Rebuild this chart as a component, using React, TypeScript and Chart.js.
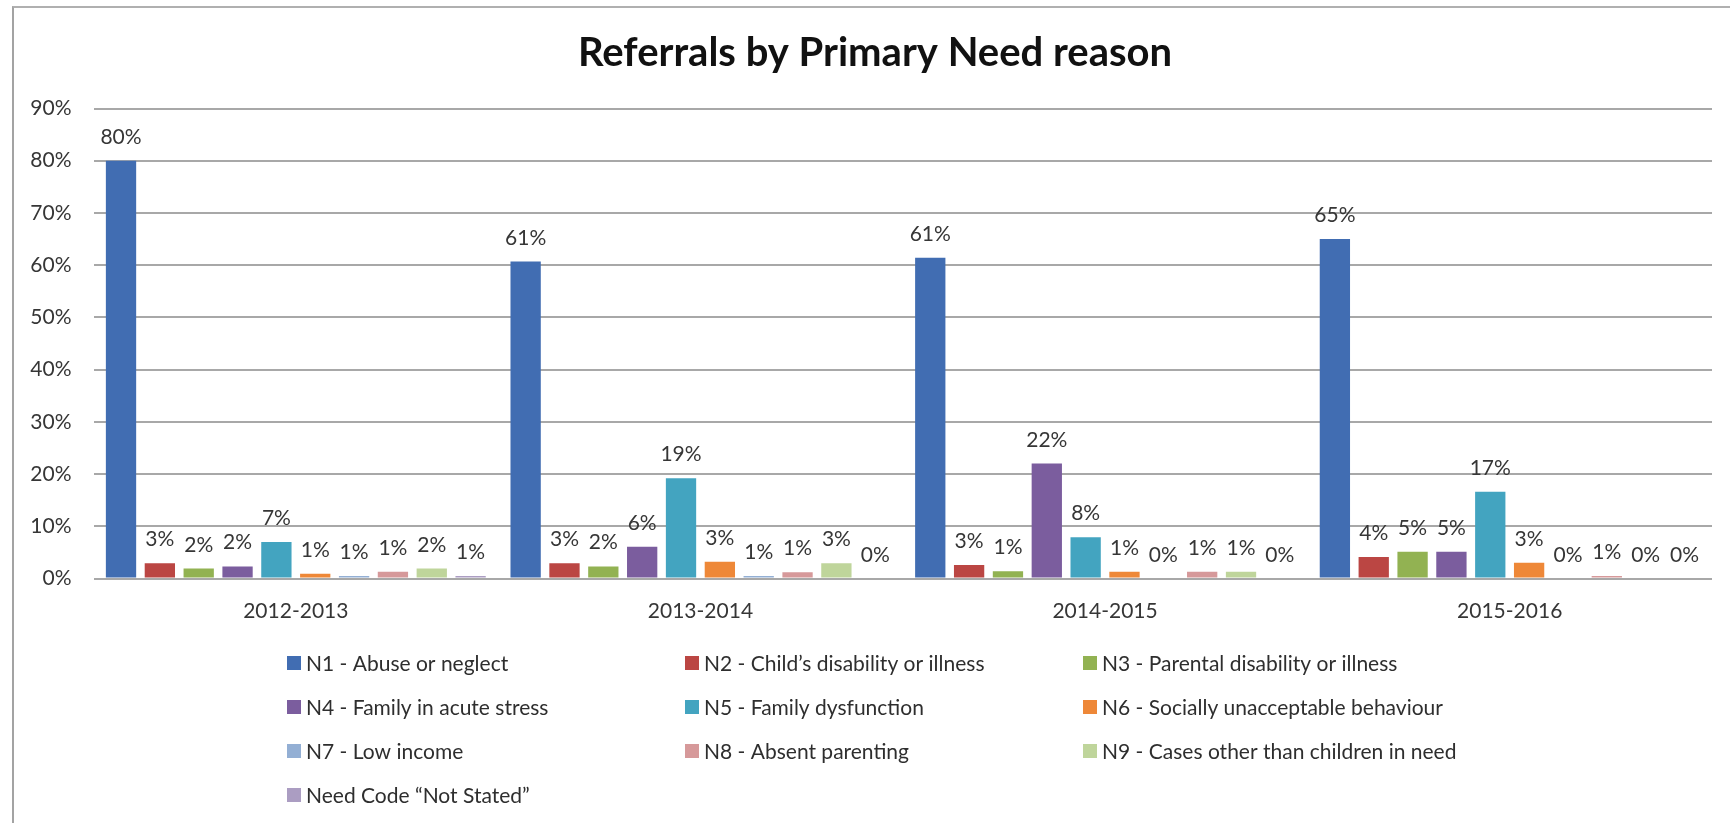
import React, { useEffect, useRef } from 'react';
import { Chart, registerables } from 'chart.js';

Chart.register(...registerables);

const chartTitle = 'Referrals by Primary Need reason';

const categories = ['2012-2013', '2013-2014', '2014-2015', '2015-2016'];

const seriesNames = [
  'N1 - Abuse or neglect',
  'N2 - Child\u2019s disability or illness',
  'N3 - Parental disability or illness',
  'N4 - Family in acute stress',
  'N5 - Family dysfunction',
  'N6 - Socially unacceptable behaviour',
  'N7 - Low income',
  'N8 - Absent parenting',
  'N9 - Cases other than children in need',
  'Need Code \u201CNot Stated\u201D',
];

const seriesColors = [
  '#416db2',
  '#bb4643',
  '#92b252',
  '#7b5d9e',
  '#43a4c0',
  '#ee8838',
  '#93afd4',
  '#d6999a',
  '#bfd59b',
  '#ab9dc2',
];

const n1 = [80.0, 60.7, 61.4, 65.0];
const n2 = [2.9, 2.9, 2.6, 4.1];
const n3 = [1.9, 2.3, 1.4, 5.1];
const n4 = [2.3, 6.1, 22.0, 5.1];
const n5 = [7.0, 19.2, 7.9, 16.6];
const n6 = [0.9, 3.2, 1.3, 3.0];
const n7 = [0.5, 0.5, 0, 0];
const n8 = [1.3, 1.2, 1.3, 0.5];
const n9 = [1.9, 2.9, 1.3, 0];
const notStated = [0.5, 0, 0, 0];

const seriesValues = [n1, n2, n3, n4, n5, n6, n7, n8, n9, notStated];

const yTicks = [0, 10, 20, 30, 40, 50, 60, 70, 80, 90];

const TEXT_FONT = 'Lato, "Open Sans", sans-serif';

const titlePlugin = {
  id: 'customTitle',
  afterDraw(chart: any) {
    const ctx = chart.ctx;
    ctx.save();
    ctx.font = `bold 40px ${TEXT_FONT}`;
    ctx.fillStyle = '#111111';
    ctx.textAlign = 'center';
    ctx.textBaseline = 'middle';
    ctx.fillText(chartTitle, chart.width / 2 + 10, 53);
    ctx.restore();
  },
};

const valueLabelPlugin = {
  id: 'valueLabels',
  afterDatasetsDraw(chart: any) {
    const ctx = chart.ctx;
    ctx.save();
    ctx.font = `21px ${TEXT_FONT}`;
    ctx.fillStyle = '#363636';
    ctx.textAlign = 'center';
    ctx.textBaseline = 'alphabetic';
    chart.data.datasets.forEach((ds: any, i: number) => {
      const meta = chart.getDatasetMeta(i);
      meta.data.forEach((el: any, j: number) => {
        const v = ds.data[j];
        ctx.fillText(`${Math.round(v)}%`, el.x, el.y - 17);
      });
    });
    ctx.restore();
  },
};

const gridLegendPlugin = {
  id: 'gridLegend',
  afterDraw(chart: any) {
    const ctx = chart.ctx;
    const area = chart.chartArea;
    const colStart = area.left + 193.5;
    const colStep = 398;
    const rowStart = area.bottom + 84.5;
    const rowStep = 44;
    const box = 14;
    ctx.save();
    ctx.font = `21px ${TEXT_FONT}`;
    ctx.textAlign = 'left';
    ctx.textBaseline = 'middle';
    chart.data.datasets.forEach((ds: any, i: number) => {
      const col = i % 3;
      const row = Math.floor(i / 3);
      const x = colStart + col * colStep;
      const y = rowStart + row * rowStep;
      ctx.fillStyle = ds.backgroundColor;
      ctx.fillRect(x, y - box / 2, box, box);
      ctx.fillStyle = '#2e2e2e';
      ctx.fillText(ds.label, x + 19, y + 1);
    });
    ctx.restore();
  },
};

export default function App() {
  const canvasRef = useRef<HTMLCanvasElement | null>(null);

  useEffect(() => {
    if (!canvasRef.current) return;
    const chart = new Chart(canvasRef.current, {
      type: 'bar',
      data: {
        labels: categories,
        datasets: seriesNames.map((name, i) => ({
          label: name,
          data: seriesValues[i],
          backgroundColor: seriesColors[i],
          borderWidth: 0,
          categoryPercentage: 0.96,
          barPercentage: 0.78,
        })),
      },
      options: {
        animation: false,
        responsive: false,
        devicePixelRatio: 1,
        layout: { padding: { left: 14, right: 18, top: 108.5, bottom: 199.5 } },
        plugins: {
          legend: { display: false },
          tooltip: { enabled: false },
          title: { display: false },
        },
        scales: {
          x: {
            grid: { display: false, drawTicks: false },
            border: { display: false },
            ticks: {
              color: '#363636',
              font: { family: TEXT_FONT, size: 21 },
              padding: 20,
              maxRotation: 0,
            },
            afterFit: (axis: any) => {
              axis.height = 45;
            },
          },
          y: {
            min: 0,
            max: 90,
            afterBuildTicks: (axis: any) => {
              axis.ticks = yTicks.map((v) => ({ value: v }));
            },
            grid: { color: '#a8a8a8', lineWidth: 2, drawTicks: false },
            border: { display: false },
            ticks: {
              color: '#363636',
              font: { family: TEXT_FONT, size: 21 },
              padding: 22,
              callback: (v: any) => `${v}%`,
            },
            afterFit: (axis: any) => {
              axis.width = 79.5;
            },
          },
        },
      },
      plugins: [valueLabelPlugin, gridLegendPlugin, titlePlugin],
    });
    return () => chart.destroy();
  }, []);

  return (
    <div
      style={{
        position: 'fixed',
        left: 0,
        top: 0,
        width: 1730,
        height: 823,
        background: '#ffffff',
        overflow: 'hidden',
      }}
    >
      <canvas
        ref={canvasRef}
        width={1730}
        height={823}
        style={{ position: 'absolute', left: 0, top: 0, width: 1730, height: 823 }}
      />
      <div
        style={{
          position: 'absolute',
          left: 12,
          top: 6,
          width: 1800,
          height: 900,
          borderLeft: '2px solid #a3a3a3',
          borderTop: '2px solid #b0b0b0',
          pointerEvents: 'none',
        }}
      />
    </div>
  );
}
